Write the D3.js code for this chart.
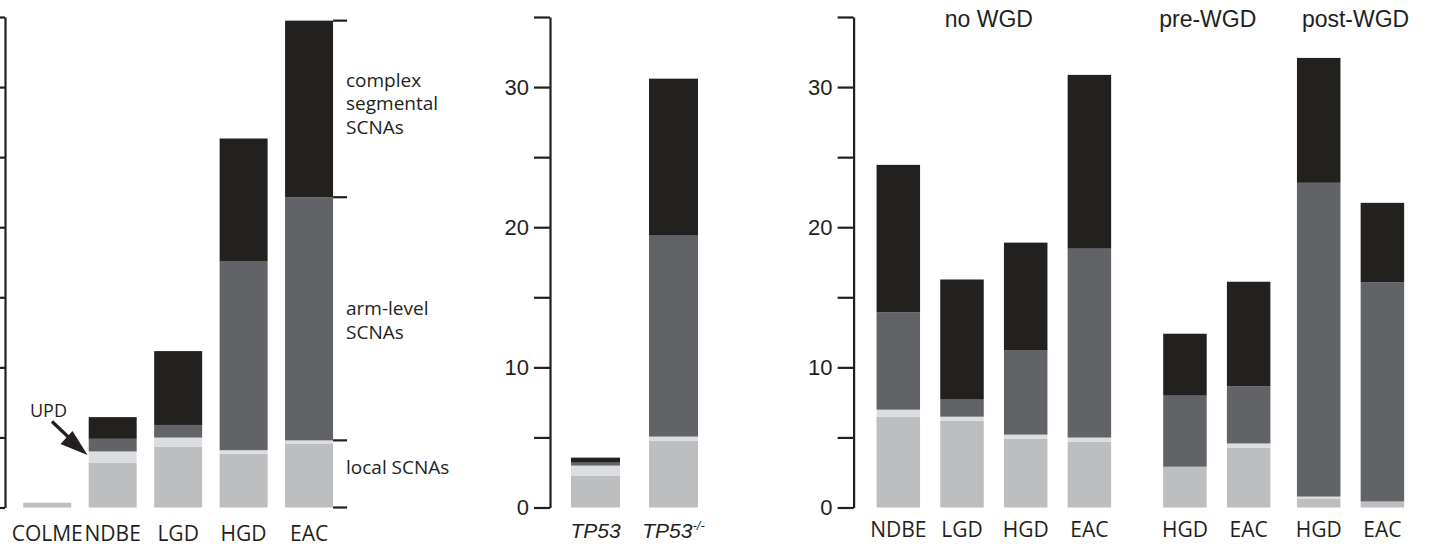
<!DOCTYPE html>
<html>
<head>
<meta charset="utf-8">
<style>
  body { margin: 0; background: #fff; }
  svg { display: block; }
  .ax text { font-family: "Liberation Sans", Arial, sans-serif; font-size: 22px; fill: #231f20; }
  .cat { font-family: "Open Sans", sans-serif; font-size: 21px; fill: #231f20; }
  .note { font-family: "Open Sans", sans-serif; font-size: 19px; fill: #231f20; }
  .grp { font-family: "Liberation Sans", Arial, sans-serif; font-size: 23px; fill: #231f20; }
  .gene { font-family: "Liberation Sans", Arial, sans-serif; font-size: 21px; font-style: italic; fill: #231f20; }
</style>
</head>
<body>
<svg width="1432" height="552"></svg>
<script src="https://d3js.org/d3.v7.min.js"></script>
<script>

// stack order, bottom to top
var segKeys = ["local", "upd", "arm", "complex"];
var segColors = ["#bdbec0", "#dcdde0", "#626367", "#222120"];

// panel 1 - progression stages
var stageCats = ["COLME", "NDBE", "LGD", "HGD", "EAC"];
var stageLocal = [0.34, 3.2, 4.34, 3.84, 4.57];
var stageUpd = [0, 0.8, 0.65, 0.25, 0.22];
var stageArm = [0, 0.9, 0.9, 13.46, 17.35];
var stageComplex = [0, 1.55, 5.27, 8.78, 12.6];

// panel 2 - TP53 status
var tpCats = ["TP53", "TP53-/-"];
var tpLocal = [2.27, 4.77];
var tpUpd = [0.72, 0.29];
var tpArm = [0.21, 14.34];
var tpComplex = [0.36, 11.2];

// panel 3 - WGD status
var wgdGroups = ["no WGD", "pre-WGD", "post-WGD"];
var wgdCats = ["NDBE", "LGD", "HGD", "EAC", "HGD", "EAC", "HGD", "EAC"];
var wgdGroupOf = [0, 0, 0, 0, 1, 1, 2, 2];
var wgdLocal = [6.48, 6.2, 4.92, 4.69, 2.91, 4.27, 0.65, 0.43];
var wgdUpd = [0.5, 0.28, 0.28, 0.3, 0, 0.3, 0.13, 0];
var wgdArm = [6.95, 1.22, 6.0, 13.48, 5.07, 4.07, 22.39, 15.63];
var wgdComplex = [10.52, 8.57, 7.7, 12.4, 4.42, 7.47, 8.91, 5.68];

var yTicks = [0, 5, 10, 15, 20, 25, 30, 35];

var svg = d3.select("svg");
var y = d3.scaleLinear().domain([0, 35]).range([507.5, 17]);

function rowsOf(cats, local, upd, arm, complex) {
  return cats.map(function(c, i) {
    return {i: i, cat: c, local: local[i], upd: upd[i], arm: arm[i], complex: complex[i]};
  });
}

var stack = d3.stack().keys(segKeys);

function drawBars(g, rows, xLeft, bw) {
  var series = stack(rows);
  g.selectAll(".seg")
    .data(series)
    .enter().append("g")
      .attr("fill", function(d, k) { return segColors[k]; })
    .selectAll("rect")
    .data(function(d) { return d.filter(function(p) { return p[1] - p[0] > 0; }); })
    .enter().append("rect")
      .attr("x", function(p) { return xLeft(p.data.i); })
      .attr("width", bw)
      .attr("y", function(p) { return y(p[1]); })
      .attr("height", function(p) { return y(p[0]) - y(p[1]); });
}

function drawAxis(x, labels) {
  var ax = d3.axisLeft(y)
    .tickValues(yTicks)
    .tickSize(16)
    .tickSizeOuter(0)
    .tickPadding(5)
    .tickFormat(function(d) { return labels && d % 10 === 0 ? d : ""; });
  var g = svg.append("g").attr("class", "ax")
    .attr("transform", "translate(" + x + ",0)")
    .call(ax);
  g.select(".domain").attr("stroke", "#231f20").attr("stroke-width", 2.2);
  g.selectAll(".tick line").attr("stroke", "#231f20").attr("stroke-width", 2.2);
  return g;
}

// ---------- panel 1 ----------
var rowsA = rowsOf(stageCats, stageLocal, stageUpd, stageArm, stageComplex);
var xA = d3.scaleBand().domain(d3.range(stageCats.length))
  .range([14.5, 341.8]).paddingInner(0.267).paddingOuter(0.1335);

drawAxis(5, false);
var gA = svg.append("g");
drawBars(gA, rowsA, function(i) { return xA(i); }, xA.bandwidth());

gA.selectAll(".cat")
  .data(stageCats)
  .enter().append("text")
    .attr("class", "cat")
    .attr("x", function(d, i) { return xA(i) + xA.bandwidth() / 2; })
    .attr("y", 541)
    .attr("text-anchor", "middle")
    .text(function(d) { return d; });

// bracket for EAC bar segments
var eac = rowsA[rowsA.length - 1];
var bracketVals = [eac.local + eac.upd + eac.arm + eac.complex, eac.local + eac.upd + eac.arm, eac.local + eac.upd, 0];
var bx0 = xA(rowsA.length - 1) + xA.bandwidth();
svg.append("g").selectAll("line")
  .data(bracketVals)
  .enter().append("line")
    .attr("x1", bx0).attr("x2", bx0 + 14)
    .attr("y1", function(d) { return y(d); })
    .attr("y2", function(d) { return y(d); })
    .attr("stroke", "#231f20").attr("stroke-width", 2.2);

var notes = [
  {lines: ["complex", "segmental", "SCNAs"], y: 86.5},
  {lines: ["arm-level", "SCNAs"], y: 315},
  {lines: ["local SCNAs"], y: 474}
];
notes.forEach(function(n) {
  var t = svg.append("text").attr("class", "note").attr("x", 346).attr("y", n.y);
  n.lines.forEach(function(l, k) {
    t.append("tspan").attr("x", 346).attr("dy", k === 0 ? 0 : 23.5).text(l);
  });
});

// UPD call-out
svg.append("text").attr("class", "note").attr("x", 30).attr("y", 416.5)
  .style("font-size", "18px").text("UPD");
svg.append("line")
  .attr("x1", 52).attr("y1", 421.5).attr("x2", 72).attr("y2", 440.5)
  .attr("stroke", "#231f20").attr("stroke-width", 3.2);
svg.append("path")
  .attr("d", "M87.5,455 L60.5,444 L72.5,431 Z")
  .attr("fill", "#231f20");

// ---------- panel 2 ----------
var rowsB = rowsOf(tpCats, tpLocal, tpUpd, tpArm, tpComplex);
var xB = d3.scaleBand().domain(d3.range(tpCats.length))
  .range([556.5, 712.5]).paddingInner(0.372).paddingOuter(0.186);

drawAxis(550, true);
var gB = svg.append("g");
drawBars(gB, rowsB, function(i) { return xB(i); }, xB.bandwidth());

gB.selectAll(".gene")
  .data(tpCats)
  .enter().append("text")
    .attr("class", "gene")
    .attr("x", function(d, i) { return xB(i) + xB.bandwidth() / 2; })
    .attr("y", 538)
    .attr("text-anchor", "middle")
    .each(function(d) {
      var base = d.replace("-/-", "");
      var t = d3.select(this);
      t.append("tspan").text(base);
      if (base !== d) {
        t.append("tspan").attr("dy", -8).style("font-size", "13px").text(d.slice(base.length));
      }
    });

// ---------- panel 3 ----------
var rowsC = rowsOf(wgdCats, wgdLocal, wgdUpd, wgdArm, wgdComplex);
var groupShift = [0, 0.5, 0.6];
var slot = function(i) { return i + groupShift[wgdGroupOf[i]]; };
var xC = d3.scaleLinear().domain([0, 7.6]).range([898.3, 1382.4]);
var bwC = 43.5;
var grpLabelDx = [-5, -9, 5];

drawAxis(853.6, true);
var gC = svg.append("g");
drawBars(gC, rowsC, function(i) { return xC(slot(i)) - bwC / 2; }, bwC);

gC.selectAll(".cat")
  .data(wgdCats)
  .enter().append("text")
    .attr("class", "cat")
    .attr("x", function(d, i) { return xC(slot(i)); })
    .attr("y", 537)
    .attr("text-anchor", "middle")
    .text(function(d) { return d; });

gC.selectAll(".grp")
  .data(wgdGroups)
  .enter().append("text")
    .attr("class", "grp")
    .attr("x", function(d, gi) {
      var idx = d3.range(wgdCats.length).filter(function(i) { return wgdGroupOf[i] === gi; });
      return d3.mean(idx, function(i) { return xC(slot(i)); }) + grpLabelDx[gi];
    })
    .attr("y", 26.5)
    .attr("text-anchor", "middle")
    .text(function(d) { return d; });

</script>
</body>
</html>
